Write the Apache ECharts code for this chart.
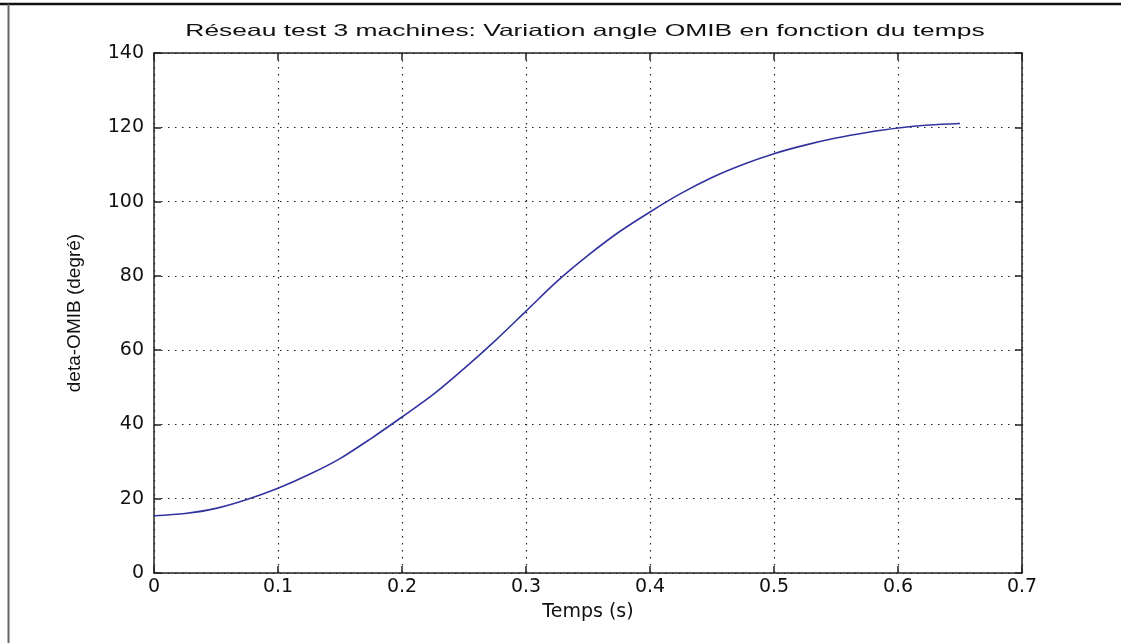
<!DOCTYPE html>
<html>
<head>
<meta charset="utf-8">
<script src="https://cdn.jsdelivr.net/npm/echarts@6/dist/echarts.min.js"></script>
<style>
html,body{margin:0;padding:0;background:#fff;}
#c{width:1121px;height:643px;}
</style>
</head>
<body>
<div id="c"></div>
<script>
var title = 'Réseau test 3 machines: Variation angle OMIB en fonction du temps';
var xName = 'Temps (s)';
var yName = 'deta-OMIB (degré)';
var timeS = [0,0.025,0.05,0.075,0.1,0.125,0.15,0.175,0.2,0.225,0.25,0.275,0.3,0.325,0.35,0.375,0.4,0.425,0.45,0.475,0.5,0.525,0.55,0.575,0.6,0.625,0.65];
var deltaDeg = [15.4,16.0,17.4,19.8,22.8,26.5,30.8,36.2,42.0,48.0,55.0,62.5,70.5,78.5,85.5,91.8,97.2,102.2,106.5,110.0,112.9,115.2,117.1,118.6,119.8,120.6,121.0];

var data = timeS.map(function(t,i){return [t, deltaDeg[i]];});
var font = 'DejaVu Sans, Liberation Sans, sans-serif';
var chart = echarts.init(document.getElementById('c'), null, {renderer:'canvas'});
var splitStyle = {show:true, lineStyle:{color:'#222', type:[1.5,5.5], width:1.2}};
var axLine = {show:true, onZero:false, lineStyle:{color:'#222', width:1.5}};
var tick = {show:true, inside:true, length:7, lineStyle:{color:'#222', width:1.5}};
chart.setOption({
  animation:false,
  backgroundColor:'#fff',
  grid:{left:154, right:99, top:53, bottom:70, containLabel:false},
  xAxis:[{
    type:'value', min:0, max:0.7, interval:0.1, position:'bottom',
    name:xName, nameLocation:'middle', nameGap:30,
    nameTextStyle:{fontFamily:font, fontSize:19, color:'#111'},
    axisLine:axLine, axisTick:tick,
    axisLabel:{fontFamily:font, fontSize:19, color:'#111', margin:5,
      formatter:function(v){return v===0?'0':(Math.round(v*10)/10).toString();}},
    splitLine:splitStyle
  },{
    type:'value', min:0, max:0.7, interval:0.1, position:'top',
    axisLine:axLine, axisTick:tick,
    axisLabel:{show:false}, splitLine:{show:false}
  }],
  yAxis:[{
    type:'value', min:0, max:140, interval:20, position:'left',
    name:yName, nameLocation:'middle', nameGap:70, nameRotate:90,
    nameTextStyle:{fontFamily:'Liberation Sans, Arial, sans-serif', fontSize:19, color:'#111'},
    axisLine:axLine, axisTick:tick,
    axisLabel:{fontFamily:font, fontSize:19, color:'#111', margin:10},
    splitLine:splitStyle
  },{
    type:'value', min:0, max:140, interval:20, position:'right',
    axisLine:axLine, axisTick:tick,
    axisLabel:{show:false}, splitLine:{show:false}
  }],
  series:[{
    type:'line', data:data, smooth:0.3, showSymbol:false, xAxisIndex:0, yAxisIndex:0,
    lineStyle:{color:'#3333a0', width:1.6}
  }],
  graphic:[
    {type:'text', x:585, y:31, scaleX:1.6, z:100,
      style:{text:title, font:'16.5px Liberation Sans, Arial, sans-serif', fill:'#111', align:'center', verticalAlign:'middle'}},
    {type:'line', shape:{x1:0,y1:4,x2:1121,y2:4}, style:{stroke:'#111', lineWidth:2.5}, z:100},
    {type:'line', shape:{x1:8.5,y1:4,x2:8.5,y2:643}, style:{stroke:'#666', lineWidth:2}, z:100}
  ]
});
</script>
</body>
</html>
